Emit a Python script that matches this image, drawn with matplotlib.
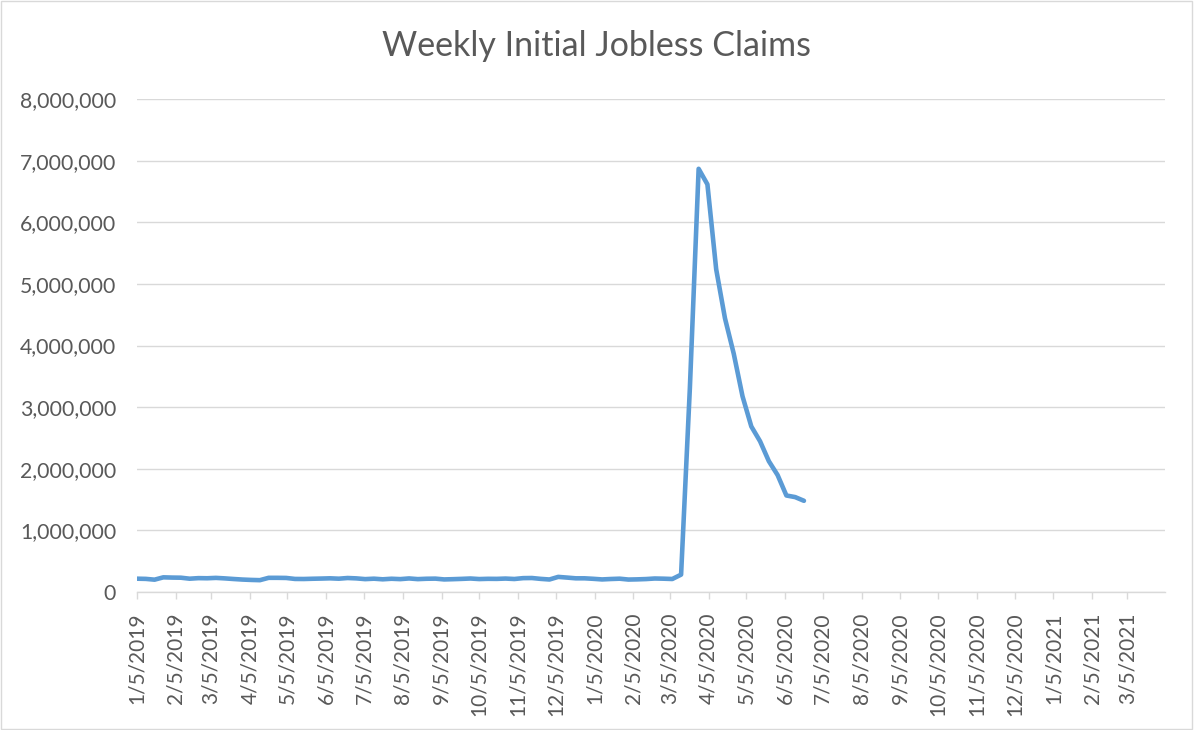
import pandas as pd
import matplotlib.pyplot as plt
from matplotlib.ticker import FuncFormatter
from matplotlib.patches import Rectangle

# weekly initial claims (seasonally adjusted), week ending dates
weeks = pd.date_range("2019-01-05", "2020-06-20", freq="7D")
claims = [
    216000, 213000, 200000, 238000, 234000, 232000, 216000, 225000, 223000, 229000,
    221000, 211000, 202000, 196000, 192000, 230000, 230000, 228000, 212000, 211000,
    215000, 218000, 222000, 216000, 227000, 221000, 209000, 216000, 206000, 215000,
    209000, 220000, 209000, 215000, 217000, 204000, 208000, 213000, 219000, 210000,
    214000, 213000, 218000, 211000, 225000, 227000, 213000, 203000, 245000, 234000,
    222000, 222000,
    214000, 204000, 211000, 216000, 202000, 205000, 210000, 219000, 216000, 211000,
    282000, 3307000, 6867000, 6615000, 5237000, 4442000, 3867000, 3176000, 2687000,
    2446000, 2123000, 1897000, 1566000, 1540000, 1480000,
]
tick_dates = pd.date_range("2019-01-01", "2021-03-01", freq="MS") + pd.Timedelta(days=4)
tick_labels = [f"{d.month}/{d.day}/{d.year}" for d in tick_dates]

plt.rcParams['font.family'] = ['Lato', 'DejaVu Sans']
grey = '#595959'
light = '#D9D9D9'

fig = plt.figure(figsize=(11.94, 7.30), dpi=100)
ax = fig.add_axes([137 / 1194, 138 / 730, 1028 / 1194, 493 / 730])

ax.plot(weeks, claims, color='#5B9BD5', linewidth=3.3, solid_joinstyle='round', solid_capstyle='round')

ax.set_xlim(pd.Timestamp("2019-01-05"), pd.Timestamp("2021-04-04"))
ax.set_ylim(0, 8000000)
ax.set_yticks(range(0, 8000001, 1000000))
ax.yaxis.set_major_formatter(FuncFormatter(lambda v, p: f"{int(v):,}"))
ax.grid(axis='y', color=light, linewidth=1)
ax.set_axisbelow(True)

ax.set_xticks(tick_dates)
ax.set_xticklabels(tick_labels, rotation=90)

for s in ['top', 'right', 'left']:
    ax.spines[s].set_visible(False)
ax.spines['bottom'].set_color(light)
ax.spines['bottom'].set_linewidth(1)
ax.tick_params(axis='y', length=0, pad=15, labelsize=15.3, labelcolor=grey)
ax.tick_params(axis='x', length=5, width=1, color=light, pad=10, labelsize=15, labelcolor=grey)

fig.text(0.5, 1 - 46 / 730, "Weekly Initial Jobless Claims", ha='center', va='center',
         fontsize=24.5, color=grey)
fig.patches.append(Rectangle((0.001, 0.001), 0.997, 0.997, transform=fig.transFigure,
                             fill=False, edgecolor=light, linewidth=1))

fig.savefig("out.png", dpi=100)
